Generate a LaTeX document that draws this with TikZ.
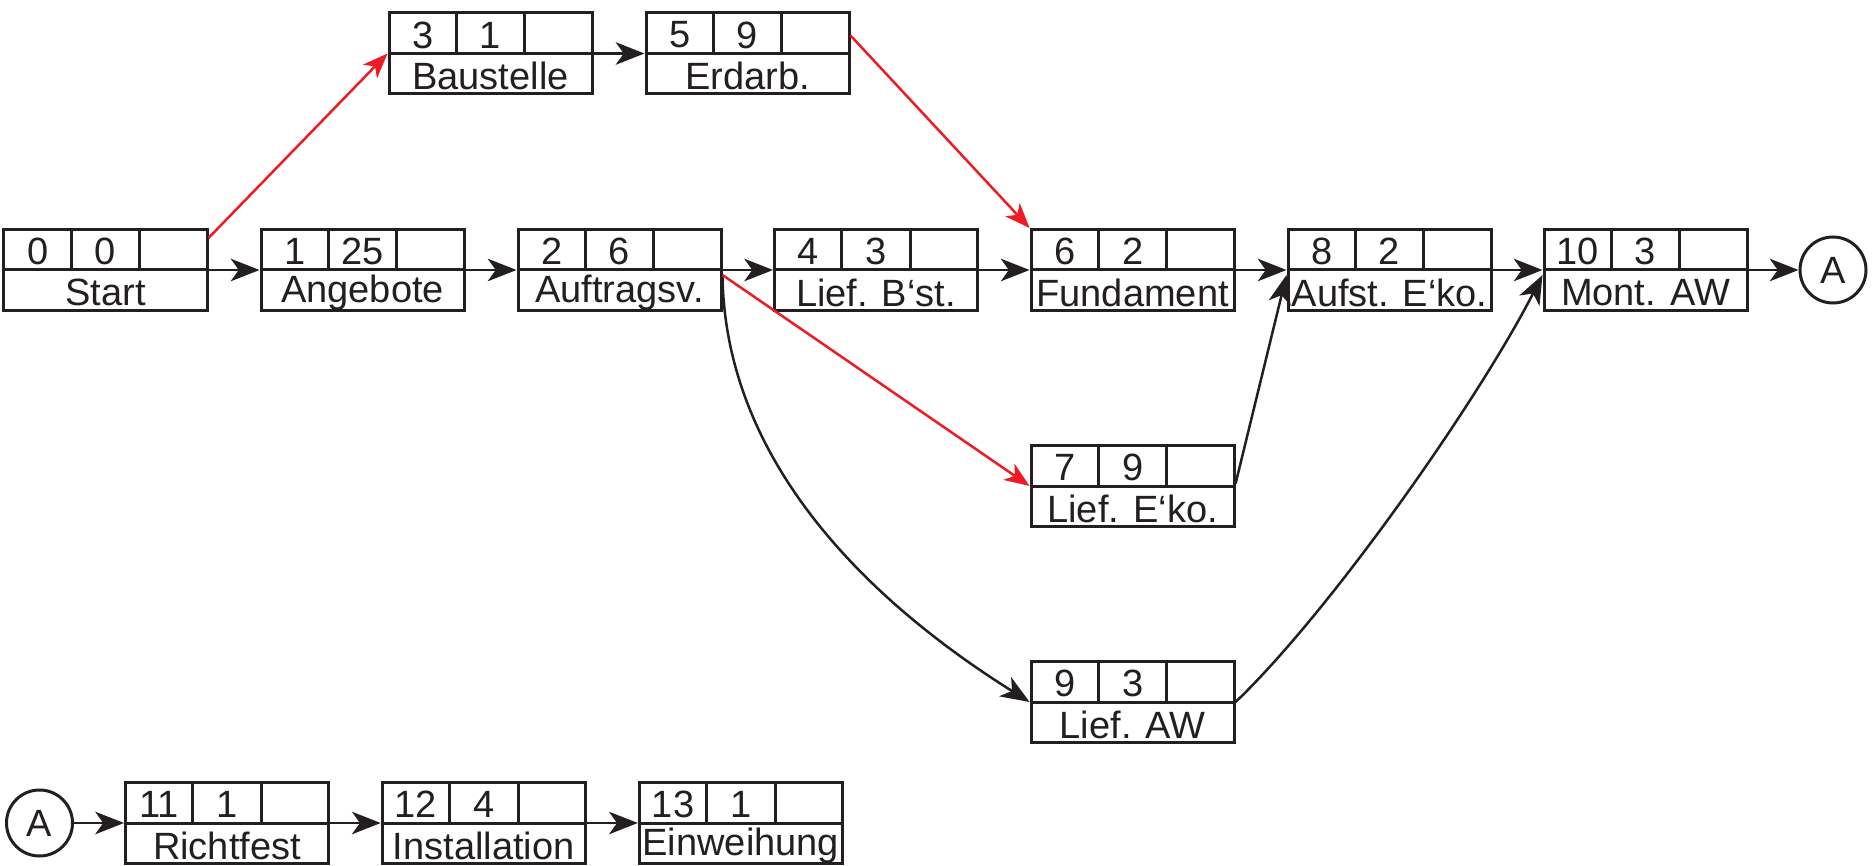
\documentclass[tikz,border=0pt]{standalone}
\usepackage{fontspec}
\setmainfont{Liberation Sans}
\usetikzlibrary{calc,arrows.meta}
\definecolor{ink}{HTML}{231F20}
\definecolor{critred}{HTML}{ED1C24}
\tikzset{
  taskbox/.style={draw=ink, line width=1.2pt, minimum width=81.2pt, minimum height=32.4pt, inner sep=0pt},
  boxline/.style={draw=ink, line width=1.2pt},
  celltext/.style={inner sep=0pt, text=ink, font=\fontsize{15.2}{17}\selectfont},
  circnode/.style={circle, draw=ink, line width=1.2pt, minimum size=26.4pt, inner sep=0pt, text=ink, font=\fontsize{15.2}{17}\selectfont},
  conn/.style={draw=ink, line width=1pt, -{Stealth[length=11.5pt, width=9pt, inset=3.2pt]}},
  critconn/.style={draw=critred, line width=1pt, -{Stealth[length=10pt, width=7.8pt, inset=2.8pt]}}
}
\newcommand\netbox[6]{%
  \node[taskbox] (#1) at (#2,#3) {};
  \draw[boxline] (#1.west) -- (#1.east);
  \draw[boxline] ($(#1.north west)!1/3!(#1.north east)$) -- ($(#1.west)!1/3!(#1.east)$);
  \draw[boxline] ($(#1.north west)!2/3!(#1.north east)$) -- ($(#1.west)!2/3!(#1.east)$);
  \node[celltext] (#1-a) at (#2-67.7,#3-18.5) {#4};
  \node[celltext] (#1-b) at (#2,#3-18.5) {#5};
  \node[celltext] (#1-l) at (#2,#3+22.5) {#6};
}
\begin{document}
\begin{tikzpicture}[x=0.4pt,y=-0.4pt]
\useasboundingbox (0,0) rectangle (1875,866);
% row 1
\netbox{baustelle}{490.5}{53.5}{3}{1}{Baustelle}
\netbox{erdarb}{747.5}{53.5}{5}{9}{Erdarb.}
% row 2
\netbox{start}{105.5}{270}{0}{0}{Start}
\netbox{angebote}{362.5}{270}{1}{25}{Angebote}
\netbox{auftrag}{619.5}{270}{2}{6}{Auftragsv.}
\netbox{liefbst}{876}{270}{4}{3}{Lief. B‘st.}
\netbox{fundament}{1132.6}{270}{6}{2}{Fundament}
\netbox{aufst}{1389.5}{270}{8}{2}{Aufst. E‘ko.}
\netbox{mont}{1645.5}{270}{10}{3}{Mont. AW}
\node[circnode] (a1) at (1833,270) {A};
% middle rows
\netbox{liefeko}{1132.6}{486}{7}{9}{Lief. E‘ko.}
\netbox{liefaw}{1132.6}{702}{9}{3}{Lief. AW}
% bottom row
\node[circnode] (a2) at (39.5,823) {A};
\netbox{richtfest}{227}{823}{11}{1}{Richtfest}
\netbox{install}{483.7}{823}{12}{4}{Installation}
\netbox{einweihung}{740.8}{823}{13}{1}{Einweihung}
% connectors
\draw[conn] (start.east) -- (angebote.west);
\draw[conn] (angebote.east) -- (auftrag.west);
\draw[conn] (auftrag.east) -- (liefbst.west);
\draw[conn] (liefbst.east) -- (fundament.west);
\draw[conn] (fundament.east) -- (aufst.west);
\draw[conn] (aufst.east) -- (mont.west);
\draw[conn] (mont.east) -- (a1.west);
\draw[conn] (baustelle.east) -- (erdarb.west);
\draw[critconn] ([yshift=-4pt]start.north east) -- (baustelle.west);
\draw[critconn] ([yshift=-9.6pt]erdarb.north east) -- (fundament.north west);
\draw[critconn] ([yshift=-2pt]auftrag.east) -- (liefeko.west);
\draw[conn] ([yshift=-3pt]auftrag.east) .. controls +(4,204) and +(-131,-82) .. (liefaw.west);
\draw[conn] ([yshift=1pt]liefeko.east) -- ([yshift=-2pt]aufst.west);
\draw[conn] (liefaw.east) .. controls +(96,-92) and +(-64,125) .. ([yshift=-2pt]mont.west);
\draw[conn] (a2.east) -- (richtfest.west);
\draw[conn] (richtfest.east) -- (install.west);
\draw[conn] (install.east) -- (einweihung.west);
\end{tikzpicture}
\end{document}
